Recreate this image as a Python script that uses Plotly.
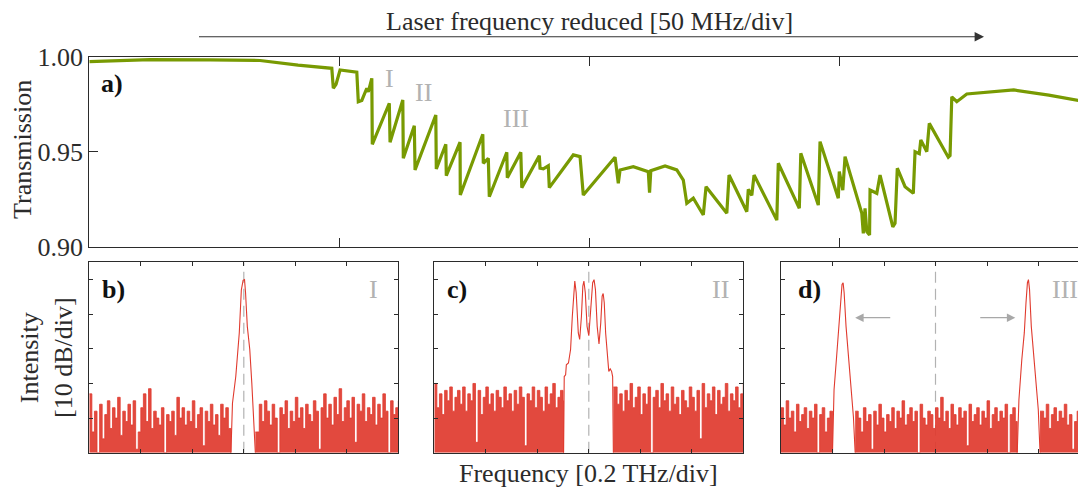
import plotly.graph_objects as go
import numpy as np

# ---------------- panel a: transmission vs laser detuning (div of 50 MHz)
detuning_div = [0.000, 0.243, 0.483, 0.683, 0.835, 0.970, 0.976, 0.987, 1.003, 1.070,
                1.076, 1.090, 1.110, 1.116, 1.130, 1.132, 1.200, 1.203, 1.254, 1.256,
                1.300, 1.303, 1.386, 1.388, 1.426, 1.428, 1.483, 1.484, 1.574, 1.576,
                1.596, 1.600, 1.670, 1.672, 1.726, 1.730, 1.800, 1.803, 1.816, 1.836,
                1.840, 1.936, 1.963, 1.976, 2.103, 2.116, 2.123, 2.176, 2.236, 2.241,
                2.246, 2.303, 2.350, 2.376, 2.390, 2.416, 2.456, 2.467, 2.550, 2.559,
                2.630, 2.636, 2.650, 2.659, 2.750, 2.756, 2.840, 2.846, 2.916, 2.923,
                2.996, 3.000, 3.014, 3.023, 3.090, 3.096, 3.103, 3.110, 3.121, 3.123,
                3.150, 3.163, 3.214, 3.223, 3.232, 3.263, 3.296, 3.303, 3.320, 3.326,
                3.343, 3.350, 3.360, 3.436, 3.443, 3.450, 3.470, 3.510, 3.698, 3.838,
                4.000]
transmission = [0.9974, 0.9985, 0.9983, 0.9980, 0.9956, 0.9939, 0.9834, 0.9855, 0.9930, 0.9918,
                0.9763, 0.9770, 0.9834, 0.9815, 0.9886, 0.9539, 0.9755, 0.9550, 0.9772, 0.9465,
                0.9637, 0.9404, 0.9693, 0.9409, 0.9539, 0.9374, 0.9550, 0.9272, 0.9592, 0.9439,
                0.9465, 0.9263, 0.9497, 0.9363, 0.9497, 0.9311, 0.9479, 0.9413, 0.9410, 0.9426,
                0.9311, 0.9483, 0.9474, 0.9272, 0.9471, 0.9334, 0.9404, 0.9421, 0.9395, 0.9285,
                0.9400, 0.9425, 0.9404, 0.9351, 0.9228, 0.9255, 0.9167, 0.9316, 0.9176, 0.9377,
                0.9184, 0.9302, 0.9270, 0.9377, 0.9140, 0.9439, 0.9202, 0.9492, 0.9219, 0.9553,
                0.9255, 0.9395, 0.9298, 0.9474, 0.9176, 0.9070, 0.9202, 0.9079, 0.9062, 0.9298,
                0.9281, 0.9377, 0.9105, 0.9123, 0.9413, 0.9316, 0.9281, 0.9500, 0.9490, 0.9562,
                0.9518, 0.9500, 0.9649, 0.9471, 0.9480, 0.9789, 0.9763, 0.9804, 0.9825, 0.9798,
                0.9760]

# ---------------- panels b-d: optical spectra (x in 0.2 THz div, y in dB above display floor)
spectrum_grid = np.linspace(-3, 3, 121)

b_noise = [17, 6, 12, 0, 14, 4, 11, 15, 7, 13,
           10, 16, 5, 12, 9, 14, 8, 15, 1, 6,
           13, 17, 9, 18.5, 7, 12, 10, 8, 13, 0,
           11, 9, 12, 5, 16, 10, 13, 8, 12, 9,
           15, 7, 11, 13, 2, 12, 9, 14, 8, 11,
           5, 14, 10, 13, 7, 12, 10, 9, 11, 8,
           9, 12, 7, 10, 11, 6, 14, 9, 15, 12,
           8, 14, 10, 0, 13, 11, 15, 7, 12, 9,
           16, 10, 13, 7, 14, 11, 9, 15, 12, 1,
           13, 17, 10, 14, 8, 16, 11, 18.5, 9, 13,
           15, 10, 16, 3, 14, 12, 17, 9, 13, 11,
           16, 8, 14, 10, 17, 12, 0, 15, 11, 13, 15]
c_noise = [20, 13, 17, 11, 18, 15, 19, 12, 16, 18,
           14, 19, 12, 17, 15, 20, 3, 18, 11, 16,
           19, 14, 17, 12, 18, 16, 13, 19, 15, 17,
           12, 18, 14, 19, 16, 2, 17, 15, 19, 13,
           18, 16, 12, 19, 14, 17, 20, 13, 16, 18,
           15, 12, 17, 14, 19, 13, 16, 12, 15, 14,
           13, 15, 12, 16, 14, 11, 17, 13, 15, 12,
           19, 14, 17, 12, 18, 15, 20, 13, 16, 19,
           11, 17, 14, 19, 0, 16, 18, 13, 20, 15,
           17, 12, 19, 14, 16, 11, 18, 15, 13, 19,
           16, 12, 18, 4, 20, 13, 17, 15, 19, 11,
           18, 14, 16, 20, 12, 17, 15, 19, 13, 17, 20]
d_noise = [13, 8, 15, 10, 12, 6, 14, 9, 11, 13,
           7, 12, 10, 14, 0, 11, 13, 6, 10, 12,
           9, 11, 8, 12, 7, 10, 9, 11, 8, 12,
           10, 6, 13, 9, 11, 1, 12, 8, 14, 10,
           6, 11, 9, 13, 7, 12, 10, 15, 8, 11,
           13, 9, 12, 0, 14, 10, 8, 12, 11, 7,
           13, 10, 16, 9, 12, 7, 14, 11, 8, 13,
           10, 12, 2, 14, 9, 11, 13, 8, 12, 10,
           15, 7, 11, 13, 9, 12, 10, 14, 0, 11,
           13, 9, 12, 7, 14, 10, 11, 13, 9, 12,
           8, 12, 10, 14, 7, 11, 13, 9, 12, 10,
           14, 8, 11, 1, 9, 12, 10, 6, 13, 11, 9]

b_peak_x = [-0.25, -0.22, -0.156, -0.088, -0.048, -0.014, 0.014, 0.034, 0.068, 0.116, 0.156, 0.197, 0.224]
b_peak_db = [0, 14.3, 22, 34.6, 47, 49.8, 50, 46.2, 36.5, 29.8, 20, 8.5, 0]

c_peak_x = [-0.49, -0.477, -0.45, -0.436, -0.395, -0.354, -0.32, -0.293, -0.272, -0.245,
            -0.204, -0.177, -0.143, -0.116, -0.095, -0.068, -0.034, 0.0, 0.041, 0.075,
            0.102, 0.129, 0.163, 0.198, 0.232, 0.259, 0.279, 0.3, 0.327, 0.361,
            0.388, 0.416, 0.443, 0.463, 0.477]
c_peak_db = [0, 22, 22.5, 25.4, 25.9, 29.8, 39.4, 47.1, 49.6, 46.2,
             34.6, 32.7, 39.4, 48.1, 49.6, 46.2, 36.5, 33.8, 41.4, 49.1,
             50, 47.1, 36.5, 31.4, 37.5, 45.2, 46, 43.3, 34.6, 26.9,
             23.5, 24.2, 23.5, 22, 0]

d_left_x = [-2.0, -1.97, -1.92, -1.88, -1.84, -1.815, -1.794, -1.774, -1.737, -1.696, -1.649, -1.594, -1.56]
d_left_db = [0, 18.2, 27.8, 35.6, 44.3, 48.6, 49.1, 46.2, 36.5, 28.8, 20, 10.4, 0]
d_right_x = [1.587, 1.62, 1.676, 1.724, 1.757, 1.785, 1.805, 1.826, 1.86, 1.894, 1.948, 1.996, 2.03]
d_right_db = [0, 15.3, 26.9, 34.6, 43.3, 49.1, 50, 47.1, 36.5, 29.8, 22, 12.4, 0]

arrow_level_db = 39
d_arrow_left = (-0.85, -1.56)   # tail, head
d_arrow_right = (0.84, 1.55)

GREEN = "#789a02"
RED = "#e03a2e"
GREY = "#b2b2b2"
AX = "#2b2b2b"
FONT = "Liberation Serif"

W, H = 1086, 487
OFF = 8  # page offset of the figure inside the browser window


def px_x(x):
    return (x - OFF) / W


def px_y(y):
    return 1 - (y - OFF) / H


def noise_segments(grid, noise, peaks):
    """Split the noise floor into runs that avoid the peak spans."""
    step = grid[1] - grid[0]
    spans = sorted((px[0], px[-1]) for px, _ in peaks)
    segs, cur = [], []
    for x, h in zip(grid, noise):
        inside = any(a <= x <= b for a, b in spans)
        if inside:
            if cur:
                segs.append(cur)
                cur = []
            continue
        cur.append((x, h))
    if cur:
        segs.append(cur)
    out = []
    for seg in segs:
        xs = [p[0] for p in seg]
        ys = [p[1] for p in seg]
        end = xs[-1] + step
        for a, b in spans:
            if xs[-1] < a < end:
                end = a
        xs.append(end)
        ys.append(0)
        starts = [b for a, b in spans if xs[0] - step < b < xs[0]]
        if starts:
            xs.insert(0, starts[0])
            ys.insert(0, ys[0])
        out.append((xs, ys))
    return out


fig = go.Figure()

fig.add_trace(go.Scatter(x=detuning_div, y=transmission, mode="lines",
                         line=dict(color=GREEN, width=3.2), xaxis="x", yaxis="y",
                         showlegend=False, hoverinfo="skip"))

panels = [
    ("x2", "y2", b_noise, [(b_peak_x, b_peak_db)]),
    ("x3", "y3", c_noise, [(c_peak_x, c_peak_db)]),
    ("x4", "y4", d_noise, [(d_left_x, d_left_db), (d_right_x, d_right_db)]),
]
for xa, ya, noise, peaks in panels:
    fig.add_trace(go.Scatter(x=[0, 0], y=[0, 55], mode="lines",
                             line=dict(color=GREY, width=1.2, dash="11px,6px"),
                             xaxis=xa, yaxis=ya, showlegend=False, hoverinfo="skip"))
    for sx, sy in noise_segments(spectrum_grid, noise, peaks):
        fig.add_trace(go.Scatter(x=sx, y=sy, mode="lines", fill="tozeroy",
                                 fillcolor="rgba(224,58,46,0.92)",
                                 line=dict(color=RED, width=0.8, shape="hv"),
                                 xaxis=xa, yaxis=ya, showlegend=False, hoverinfo="skip"))
    for px, py in peaks:
        fig.add_trace(go.Scatter(x=px, y=py, mode="lines",
                                 line=dict(color=RED, width=1.1),
                                 xaxis=xa, yaxis=ya, showlegend=False, hoverinfo="skip"))

axis_common = dict(showgrid=False, zeroline=False, showline=True, linecolor=AX,
                   linewidth=1, mirror="ticks", ticks="inside", tickcolor=AX,
                   tickwidth=1, automargin=False)

top_dom = [px_y(246.7), px_y(56.7)]
low_dom = [px_y(452.7), px_y(262.3)]
small_x = dict(range=[-3, 3], tickvals=list(range(-3, 4)), showticklabels=False, ticklen=4)
small_y = dict(range=[0, 55], tickvals=[10, 20, 30, 40, 50], showticklabels=False, ticklen=4)

fig.update_layout(
    width=W, height=H,
    margin=dict(l=0, r=0, t=0, b=0),
    paper_bgcolor="white", plot_bgcolor="white",
    font=dict(family=FONT, size=26, color=AX),
    xaxis=dict(domain=[px_x(89.3), px_x(1089.3)], range=[0, 4],
               tickvals=[1, 2, 3], showticklabels=False, ticklen=9,
               anchor="y", **axis_common),
    yaxis=dict(domain=top_dom, range=[0.90, 1.00],
               tickvals=[0.90, 0.95, 1.00], ticktext=["0.90", "0.95", "1.00"],
               ticklen=9, anchor="x", tickfont=dict(family=FONT, size=26, color=AX),
               **axis_common),
    xaxis2=dict(domain=[px_x(89.3), px_x(398.3)], anchor="y2", **small_x, **axis_common),
    yaxis2=dict(domain=low_dom, anchor="x2", **small_y, **axis_common),
    xaxis3=dict(domain=[px_x(434.3), px_x(743.3)], anchor="y3", **small_x, **axis_common),
    yaxis3=dict(domain=low_dom, anchor="x3", **small_y, **axis_common),
    xaxis4=dict(domain=[px_x(781), px_x(1090)], anchor="y4", **small_x, **axis_common),
    yaxis4=dict(domain=low_dom, anchor="x4", **small_y, **axis_common),
)

ann = []


def txt(x, y, s, color=AX, bold=False, angle=0, size=26):
    ann.append(dict(x=px_x(x), y=px_y(y), xref="paper", yref="paper",
                    text=f"<b>{s}</b>" if bold else s,
                    showarrow=False, textangle=angle,
                    font=dict(family=FONT, size=size, color=color),
                    xanchor="center", yanchor="middle"))


txt(589, 22, "Laser frequency reduced [50 MHz/div]")
txt(22, 150, "Transmission", angle=-90)
txt(46, 358, "Intensity<br>[10 dB/div]", angle=-90)
txt(588, 473, "Frequency [0.2 THz/div]")

txt(112, 83, "a)", color="#111111", bold=True)
txt(389.3, 78, "I", color=GREY)
txt(423.3, 92, "II", color=GREY)
txt(516, 118, "III", color=GREY)

txt(113, 289, "b)", color="#111111", bold=True)
txt(373.7, 289, "I", color=GREY)
txt(457, 289, "c)", color="#111111", bold=True)
txt(720.7, 289, "II", color=GREY)
txt(809, 289, "d)", color="#111111", bold=True)
txt(1064.6, 289, "III", color=GREY)

ann.append(dict(x=px_x(984), y=px_y(36.7), xref="paper", yref="paper",
                ax=-(984 - 197.5), ay=0, text="", showarrow=True,
                arrowhead=2, arrowsize=1.7, arrowwidth=1.1, arrowcolor="#333333"))
for tail, head in (d_arrow_left, d_arrow_right):
    ann.append(dict(x=head, y=arrow_level_db, xref="x4", yref="y4",
                    ax=tail, ay=arrow_level_db, axref="x4", ayref="y4",
                    text="", showarrow=True, arrowhead=2, arrowsize=1.3,
                    arrowwidth=1.3, arrowcolor="#a8a8a8"))

fig.update_layout(annotations=ann)
fig.write_html("out.html")
